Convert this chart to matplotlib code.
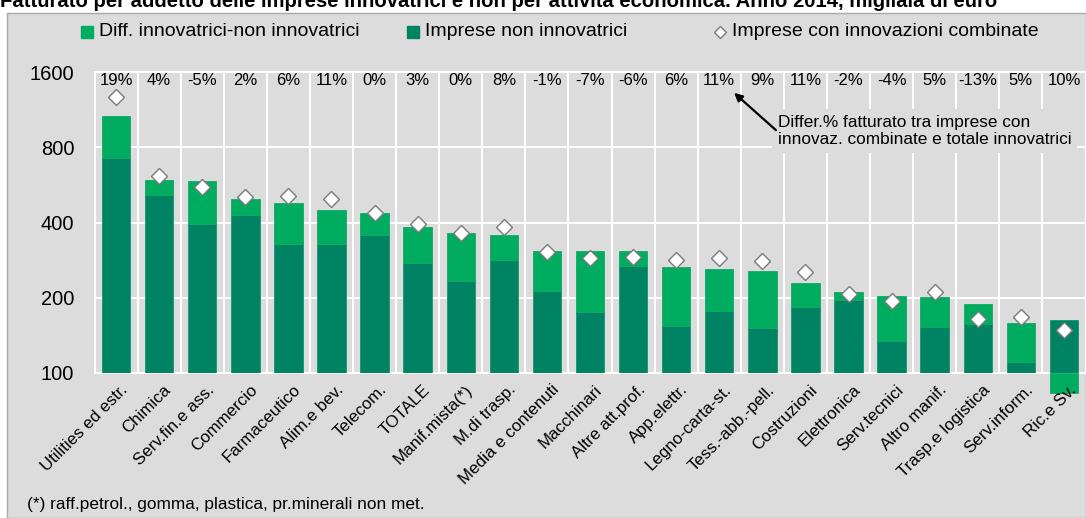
import numpy as np
import matplotlib
matplotlib.use('Agg')
import matplotlib.pyplot as plt
from matplotlib.patches import Rectangle, FancyArrowPatch
from matplotlib.lines import Line2D

plt.rcParams['font.family'] = ['Liberation Sans', 'DejaVu Sans']

# fatturato per addetto, migliaia di euro
settori = ['Utilities ed estr.', 'Chimica', 'Serv.fin.e ass.', 'Commercio', 'Farmaceutico',
           'Alim.e bev.', 'Telecom.', 'TOTALE', 'Manif.mista(*)', 'M.di trasp.',
           'Media e contenuti', 'Macchinari', 'Altre att.prof.', 'App.elettr.',
           'Legno-carta-st.', 'Tess.-abb.-pell.', 'Costruzioni', 'Elettronica',
           'Serv.tecnici', 'Altro manif.', 'Trasp.e logistica', 'Serv.inform.', 'Ric.e Sv.']
non_innov = [723, 515, 395, 428, 328, 328, 356, 276, 234, 282, 213, 175, 267, 154,
             177, 152, 183, 195, 134, 153, 157, 111, 163]
innov = [1068, 591, 586, 498, 480, 448, 437, 384, 364, 355, 309, 309, 309, 266,
         261, 257, 229, 211, 203, 201, 189, 159, 135]
# differenza % tra imprese con innovazioni combinate e totale innovatrici
diff_pct = [19, 4, -5, 2, 6, 11, 0, 3, 0, 8, -1, -7, -6, 6, 11, 9, 11, -2, -4, 5, -13, 5, 10]
yticks = [100, 200, 400, 800, 1600]

non_innov = np.array(non_innov, dtype=float)
innov = np.array(innov, dtype=float)
combinate = innov * (1 + np.array(diff_pct) / 100.0)
diff = innov - non_innov

W, H = 1086, 518
BG = '#dcdcdc'
LIGHT = '#00ad60'
DARK = '#008363'


def fx(px):
    return px / W


def fy(py):
    return 1 - py / H


fig = plt.figure(figsize=(W / 100, H / 100), dpi=100)
fig.patch.set_facecolor('white')
fig.add_artist(Rectangle((fx(7), 0), 1 - fx(7), fy(13), transform=fig.transFigure,
                         facecolor=BG, edgecolor='#a8a8a8', lw=1, zorder=-5))

fig.text(fx(0), fy(7), 'Fatturato per addetto delle imprese innovatrici e non per attività '
         'economica. Anno 2014, migliaia di euro', fontsize=14.6, fontweight='bold',
         va='baseline', ha='left')

ax = fig.add_axes([fx(94.5), 145 / H, 991 / W, 301 / H])
ax.set_facecolor(BG)
x = np.arange(len(settori))

ax.bar(x, non_innov - 100, bottom=100, width=0.66, color=DARK, edgecolor='#12996a',
       lw=0.6, zorder=3)
pos = diff >= 0
ax.bar(x[pos], diff[pos], bottom=non_innov[pos], width=0.66, color=LIGHT,
       edgecolor='#12a866', lw=0.6, zorder=3)
# differenza negativa disegnata sotto la base dell'asse
neg = ~pos
low = 100 * innov[neg] / non_innov[neg]
ax.bar(x[neg], 100 - low, bottom=low, width=0.66, color=LIGHT, edgecolor='#12a866',
       lw=0.6, zorder=3, clip_on=False)

ax.plot(x, combinate, ls='none', marker='D', ms=8, mfc='white', mec='#7a7a7a',
        mew=1, zorder=5)

ax.set_yscale('log', base=2)
ax.set_ylim(100, 1600)
ax.set_xlim(-0.5, len(settori) - 0.5)
ax.set_yticks(yticks)
ax.set_yticklabels([str(v) for v in yticks], fontsize=14.5)
ax.yaxis.set_minor_locator(matplotlib.ticker.NullLocator())
ax.set_xticks(x)
ax.set_xticklabels([])
ax.set_xticks(np.arange(0.5, len(settori) - 1, 1), minor=True)
ax.tick_params(axis='both', which='both', length=0)
ax.tick_params(axis='y', pad=14.5)
ax.grid(axis='y', which='major', color='white', lw=1.4, zorder=1)
ax.grid(axis='x', which='minor', color='white', lw=1.4, zorder=1)
for s in ax.spines.values():
    s.set_color('white')
    s.set_linewidth(1.4)

for i, name in enumerate(settori):
    ax.text(i + 0.1, -0.03, name, transform=ax.get_xaxis_transform(), rotation=45,
            ha='right', va='top', rotation_mode='anchor', fontsize=12.2)
    ax.text(i, 0.973, '%d%%' % diff_pct[i], transform=ax.get_xaxis_transform(),
            ha='center', va='center', fontsize=12, zorder=6)

# legenda
items = [(87, 's', LIGHT, LIGHT, 'Diff. innovatrici-non innovatrici'),
         (413, 's', DARK, DARK, 'Imprese non innovatrici'),
         (720, 'D', 'white', '#7a7a7a', 'Imprese con innovazioni combinate')]
for px, mk, fc, ec, label in items:
    fig.add_artist(Line2D([fx(px)], [fy(32)], transform=fig.transFigure, ls='none',
                          marker=mk, ms=8 if mk == 's' else 6.5, mfc=fc, mec=ec))
    fig.text(fx(px + 12), fy(32), label, fontsize=14, va='center', ha='left')

fig.text(fx(778), fy(131), 'Differ.% fatturato tra imprese con\ninnovaz. combinate e totale innovatrici',
         fontsize=12.4, va='center', ha='left', linespacing=1.25, zorder=6,
         bbox=dict(facecolor=BG, edgecolor='none', pad=4))
fig.add_artist(FancyArrowPatch((fx(778), fy(132)), (fx(732), fy(91)),
                               transform=fig.transFigure, arrowstyle='-|>',
                               mutation_scale=12, color='black', lw=1.6, zorder=7))

fig.text(fx(27), fy(505), '(*) raff.petrol., gomma, plastica, pr.minerali non met.',
         fontsize=12.4, va='center', ha='left')

fig.savefig('out.png', dpi=100)
